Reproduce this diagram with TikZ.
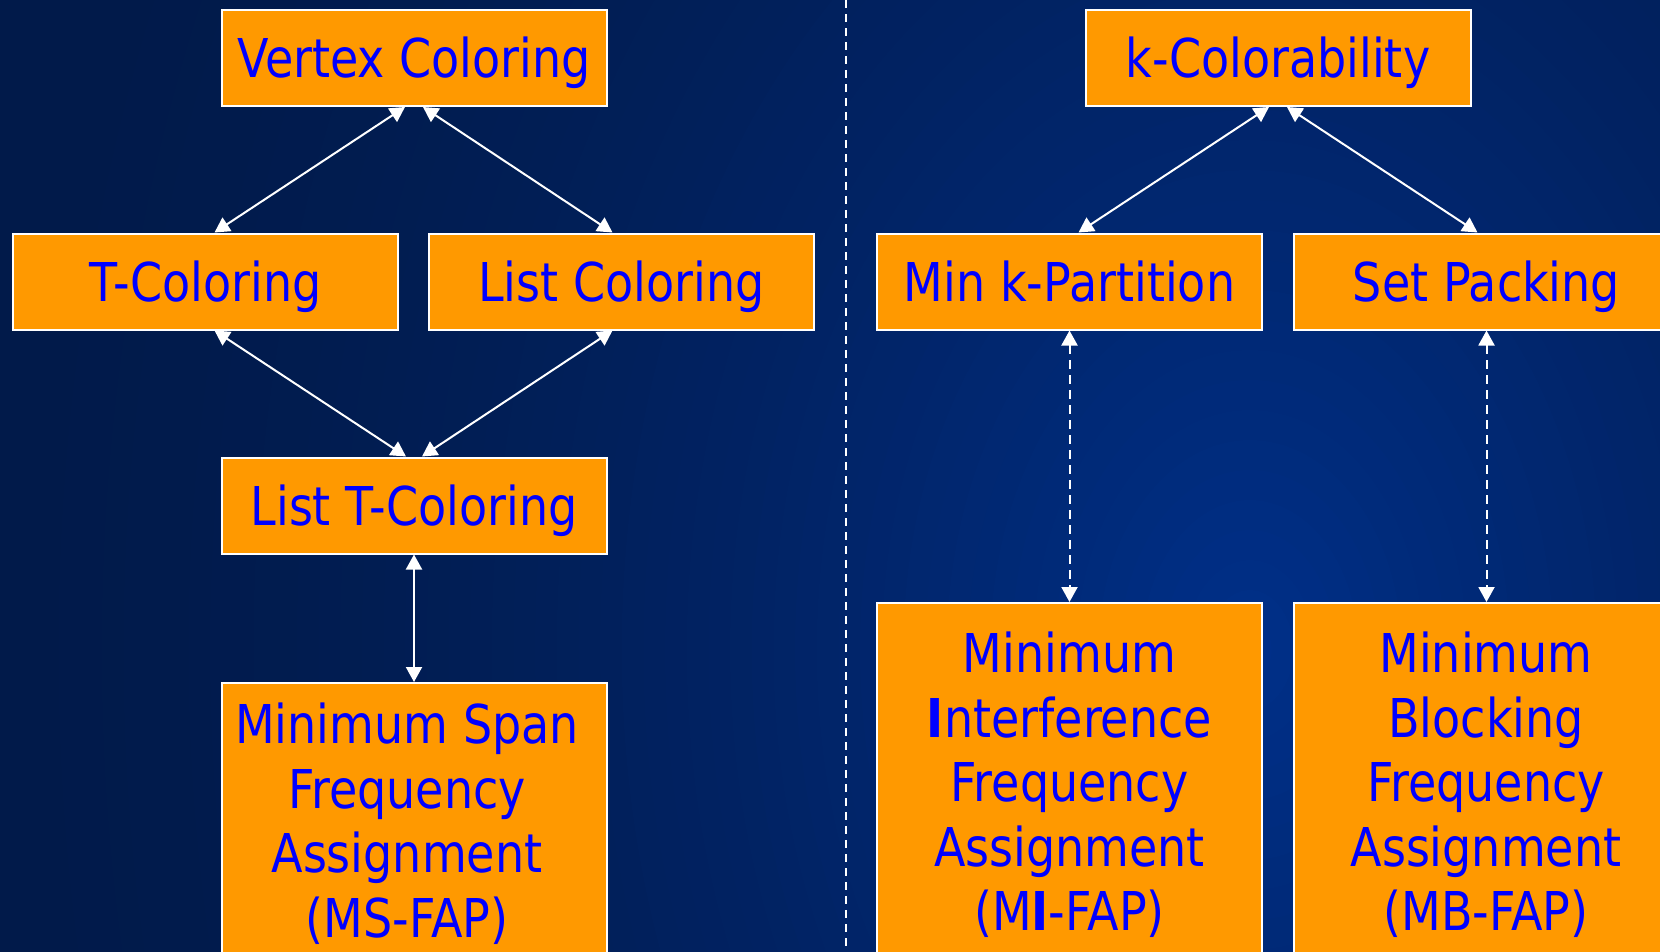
\documentclass[tikz,border=0pt]{standalone}
\usepackage{fontspec}
\setmainfont[FakeStretch=0.86]{DejaVu Sans}
\usetikzlibrary{arrows.meta}

\definecolor{boxfill}{HTML}{FF9900}
\definecolor{labelblue}{HTML}{0000FF}
\definecolor{bgin}{HTML}{00308A}
\definecolor{bgout}{HTML}{011A4A}

\newcommand\dgmfont{\fontsize{53.5}{64.5}\selectfont}

\tikzset{
  box/.style={draw=white, line width=2pt, fill=boxfill, text=labelblue,
    inner sep=0pt, minimum width=385pt, minimum height=96pt,
    font=\dgmfont, text height=39pt, text depth=-4pt},
  tallbox/.style={box, minimum height=400pt},
  boxtext/.style={text=labelblue, font=\dgmfont, align=center, inner sep=0pt, anchor=north},
  link/.style={draw=white, line width=2pt, >={Triangle[length=15pt,width=16pt]}, <->},
  dashlink/.style={link, dash pattern=on 9pt off 6pt},
  divider/.style={draw=white, line width=2pt, dash pattern=on 8pt off 6pt}
}

\begin{document}
\begin{tikzpicture}[x=1pt,y=-1pt]
\useasboundingbox (0,0) rectangle (1660,951);

% background: dark navy brightening towards the right middle
\begin{scope}
  \clip (0,0) rectangle (1660,951);
  \fill[bgout] (0,0) rectangle (1660,951);
  \foreach \i in {0,...,59} {
    \pgfmathsetmacro\rr{1-\i/60}
    \pgfmathsetmacro\ff{100*(\i/60)^1.8}
    \fill[bgin!\ff!bgout] (1250,650) ellipse [x radius={1300*\rr}, y radius={1800*\rr}];
  }
\end{scope}

% separator between the two families
\coordinate (divtop) at (846,0);
\coordinate (divbot) at (846,951);
\draw[divider] (divtop) -- (divbot);

% left family
\node[box] (vc)  at (414,58)      {Vertex Coloring};
\node[box] (tc)  at (205.5,281.5) {T-Coloring};
\node[box] (lc)  at (621.5,281.5) {List Coloring};
\node[box] (ltc) at (414,505.5)   {List T-Coloring};
\node[tallbox, anchor=north] (ms) at (414,682) {};
\node[boxtext] (mst) at (407,703) {Minimum Span\\Frequency\\Assignment\\(MS-FAP)};

% right family
\node[box] (kc) at (1278,58)      {k-Colorability};
\node[box] (mk) at (1069.5,281.5) {Min k-Partition};
\node[box] (sp) at (1486.5,281.5) {Set Packing};
\node[tallbox, anchor=north] (mi) at (1069.5,602) {};
\node[tallbox, anchor=north] (mb) at (1486.5,602) {};
\node[boxtext] (mit) at (1069.5,632) {Minimum\\{\bfseries I}nterference\\Frequency\\Assignment\\(M{\bfseries I}-FAP)};
\node[boxtext] (mbt) at (1486,632) {Minimum\\Blocking\\Frequency\\Assignment\\(MB-FAP)};

% reductions
\draw[link] ([xshift=-9pt]vc.south) -- ([xshift=9pt]tc.north);
\draw[link] ([xshift=9pt]vc.south) -- ([xshift=-9pt]lc.north);
\draw[link] ([xshift=9pt]tc.south) -- ([xshift=-8pt]ltc.north);
\draw[link] ([xshift=-9pt]lc.south) -- ([xshift=8pt]ltc.north);
\draw[link] (ltc.south) -- (ms.north);

\draw[link] ([xshift=-9pt]kc.south) -- ([xshift=9pt]mk.north);
\draw[link] ([xshift=9pt]kc.south) -- ([xshift=-9pt]sp.north);
\draw[dashlink] (mk.south) -- (mi.north);
\draw[dashlink] (sp.south) -- (mb.north);
\end{tikzpicture}
\end{document}
